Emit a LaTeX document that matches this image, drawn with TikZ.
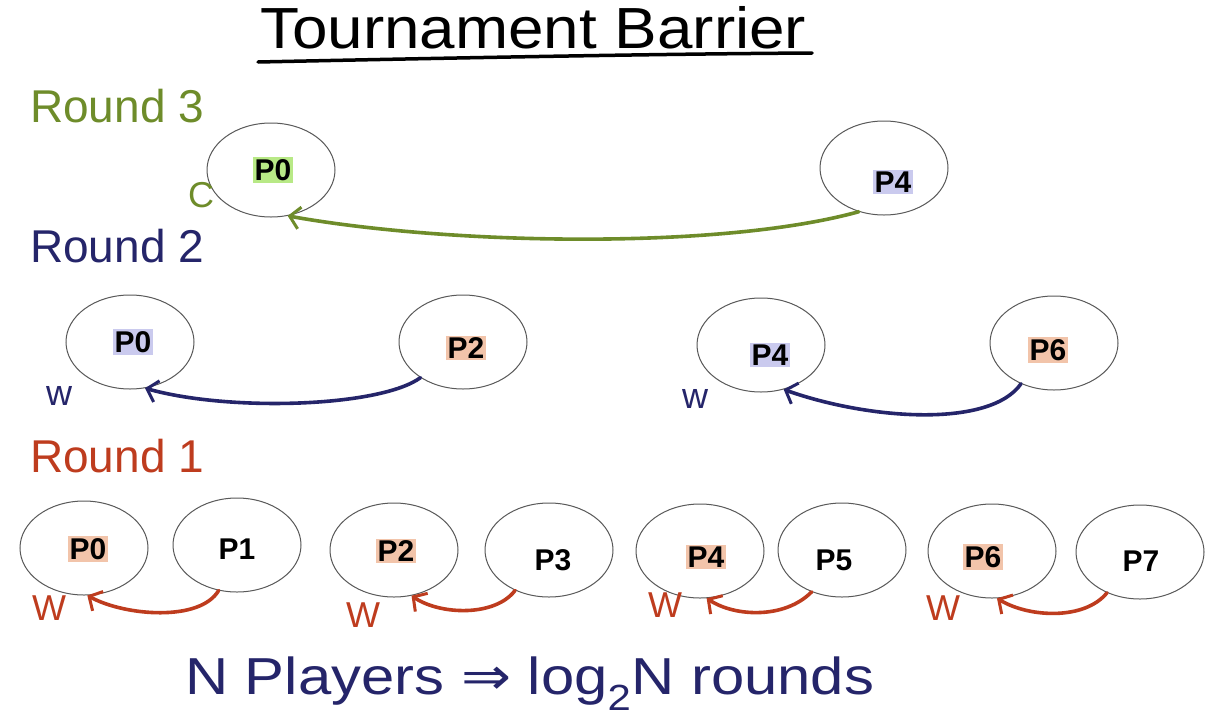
\documentclass[tikz,border=0pt]{standalone}
\usepackage{fontspec}
\setmainfont{Liberation Sans}
\newfontfamily\symfont{DejaVu Sans}
\usetikzlibrary{shapes.geometric,arrows.meta}
\definecolor{rthree}{HTML}{6E8C2A}
\definecolor{rtwo}{HTML}{25256A}
\definecolor{rone}{HTML}{BE3C1E}
\definecolor{hlgreen}{HTML}{B8E986}
\definecolor{hlblue}{HTML}{CACAEE}
\definecolor{hlpeach}{HTML}{F2C4AA}
\begin{document}
\begin{tikzpicture}[x=1pt,y=-1pt,
  player/.style={ellipse, draw=black!65, line width=1pt, minimum width=128pt, minimum height=94pt, inner sep=0pt},
  plabel/.style={font=\fontsize{30}{32}\selectfont\bfseries, text=black, inner sep=2pt},
  hand/.style={anchor=base west, inner sep=0pt},
  roundlbl/.style={hand, font=\fontsize{46}{50}\selectfont},
  letterlbl/.style={hand, font=\fontsize{36}{40}\selectfont},
  win/.style={line width=3.6pt, line cap=round, -{Straight Barb[length=10pt,width=22pt,line width=3pt]}}
]
\useasboundingbox (0,0) rectangle (1212,718);
\fill[white] (0,0) rectangle (1212,718);

% title
\node[hand, font=\fontsize{58}{62}\selectfont, xscale=1.1] (title) at (260,48) {Tournament Barrier};
\coordinate (ulA) at (258,62);
\coordinate (ulB) at (812,53);
\draw[line width=3.5pt, line cap=round] (ulA) .. controls (450,58) and (650,54) .. (ulB);

% round labels
\node[roundlbl, text=rthree] (lr3) at (30,122) {Round 3};
\node[roundlbl, text=rtwo] (lr2) at (30,262) {Round 2};
\node[roundlbl, text=rone] (lr1) at (30,472) {Round 1};

% round 3
\node[player] (r3p0) at (271,170) {};
\node[player] (r3p4) at (884,168) {};
\node[plabel, fill=hlgreen] (r3p0t) at (273,170) {P0};
\node[plabel, fill=hlblue] (r3p4t) at (893,182) {P4};
\node[letterlbl, text=rthree] (c3) at (188,207) {C};
\draw[win, draw=rthree] (r3p4.240) .. controls (720,250) and (450,245) .. (r3p0.290);

% round 2
\node[player] (r2p0) at (130,342) {};
\node[player] (r2p2) at (463,342) {};
\node[player] (r2p4) at (761,345) {};
\node[player] (r2p6) at (1054,343) {};
\node[plabel, fill=hlblue] (r2p0t) at (133,342) {P0};
\node[plabel, fill=hlpeach] (r2p2t) at (466,348) {P2};
\node[plabel, fill=hlblue] (r2p4t) at (770,355) {P4};
\node[plabel, fill=hlpeach] (r2p6t) at (1048,350) {P6};
\node[letterlbl, text=rtwo] (w2a) at (46,405) {w};
\node[letterlbl, text=rtwo] (w2b) at (682,408) {w};
\draw[win, draw=rtwo] (r2p2.220) .. controls (380,407) and (230,412) .. (r2p0.288);
\draw[win, draw=rtwo] (r2p6.231) .. controls (990,428) and (870,420) .. (r2p4.297);

% round 1
\node[player] (r1p0) at (84,548) {};
\node[player] (r1p1) at (237,545) {};
\node[player] (r1p2) at (394,550) {};
\node[player] (r1p3) at (549,550) {};
\node[player] (r1p4) at (700,551) {};
\node[player] (r1p5) at (842,550) {};
\node[player] (r1p6) at (992,551) {};
\node[player] (r1p7) at (1140,552) {};
\node[plabel, fill=hlpeach] (r1p0t) at (88,549) {P0};
\node[plabel] (r1p1t) at (237,549) {P1};
\node[plabel, fill=hlpeach] (r1p2t) at (396,551) {P2};
\node[plabel] (r1p3t) at (553,560) {P3};
\node[plabel, fill=hlpeach] (r1p4t) at (706,557) {P4};
\node[plabel] (r1p5t) at (834,560) {P5};
\node[plabel, fill=hlpeach] (r1p6t) at (983,557) {P6};
\node[plabel] (r1p7t) at (1141,561) {P7};
\node[letterlbl, text=rone] (w1a) at (32,620) {W};
\node[letterlbl, text=rone] (w1b) at (346,627) {W};
\node[letterlbl, text=rone] (w1c) at (648,617) {W};
\node[letterlbl, text=rone] (w1d) at (926,620) {W};
\draw[win, draw=rone] (r1p1.248) .. controls (200,622) and (125,616) .. (r1p0.274);
\draw[win, draw=rone] (r1p3.230) .. controls (495,617) and (440,615) .. (r1p2.291);
\draw[win, draw=rone] (r1p5.234) .. controls (785,619) and (735,617) .. (r1p4.278);
\draw[win, draw=rone] (r1p7.231) .. controls (1085,620) and (1030,618) .. (r1p6.276);

% bottom statement
\node[hand, font=\fontsize{52}{56}\selectfont, text=rtwo, xscale=1.15] (summary) at (185,694) {N Players {\symfont ⇒} log\textsubscript{2}N rounds};
\end{tikzpicture}
\end{document}
